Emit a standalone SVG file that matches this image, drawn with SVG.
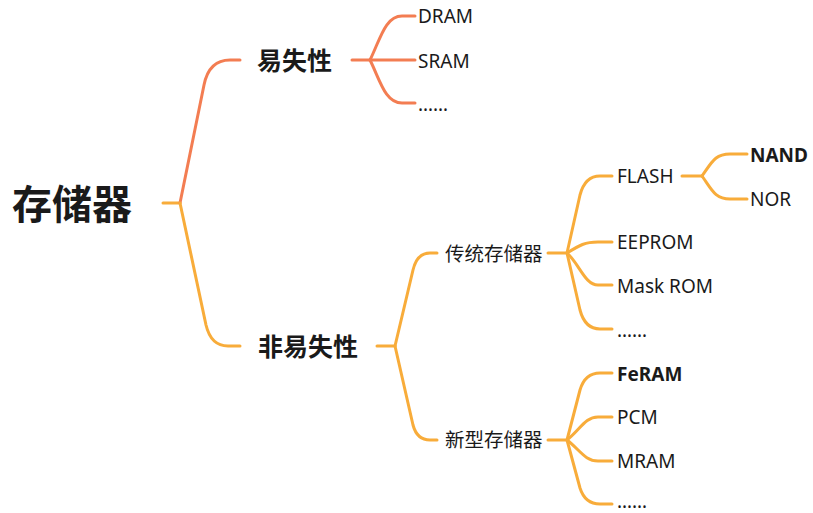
<svg xmlns="http://www.w3.org/2000/svg" width="813" height="513" viewBox="0 0 813 513">
<style>
.c{fill:none;stroke-width:3;stroke-linecap:round;stroke-linejoin:round}
.r{stroke:#F37D52}
.y{stroke:#F8AC3A}
.t{font-family:"Noto Sans","Noto Sans CJK SC",sans-serif;fill:#1a1a1a;font-size:19px}
.zh{font-family:"Noto Sans CJK SC","Noto Sans",sans-serif;fill:#1a1a1a}
.b{font-weight:bold}
</style>
<rect width="813" height="513" fill="#ffffff"/>
<g id="connectors">
<path class="c y" d="M163,203 L180,203"/>
<path class="c r" d="M180,203 L204,85 Q209,60 230,60 L240,60"/>
<path class="c y" d="M180,203 L206,325 Q211,346 228,346 L240,346"/>
<path class="c r" d="M352,60 L370,60"/>
<path class="c r" d="M370,60 C380,40 385,16 402,16 L415,16"/>
<path class="c r" d="M370,60 L415,60"/>
<path class="c r" d="M370,60 C380,80 385,103 402,103 L415,103"/>
<path class="c y" d="M377,346 L395,346"/>
<path class="c y" d="M395,346 L413,270 Q417,253 430,253 L437,253"/>
<path class="c y" d="M395,346 L413,425 Q417,440 430,440 L437,440"/>
<path class="c y" d="M548,253 L567,253"/>
<path class="c y" d="M567,253 L580,195 Q585,176 600,176 L612,176"/>
<path class="c y" d="M567,253 C580,245 585,242 598,242 L612,242"/>
<path class="c y" d="M567,253 C580,265 585,285 598,285 L612,285"/>
<path class="c y" d="M567,253 L580,310 Q585,329 600,329 L612,329"/>
<path class="c y" d="M682,176 L702,176"/>
<path class="c y" d="M702,176 C712,162 715,154 730,154 L747,154"/>
<path class="c y" d="M702,176 C712,190 715,199 730,199 L747,199"/>
<path class="c y" d="M548,440 L567,440"/>
<path class="c y" d="M567,440 L580,390 Q585,373 600,373 L612,373"/>
<path class="c y" d="M567,440 C580,430 585,417 598,417 L612,417"/>
<path class="c y" d="M567,440 C580,450 585,461 598,461 L612,461"/>
<path class="c y" d="M567,440 L580,488 Q585,504 600,504 L612,504"/>
</g>
<g id="root"><text class="zh b" x="12" y="219" font-size="40">存储器</text></g>
<g id="volatile"><text class="zh b" x="257" y="70" font-size="25">易失性</text></g>
<g id="nonvolatile"><text class="zh b" x="258" y="356" font-size="25">非易失性</text></g>
<g id="dram"><text class="t" x="418" y="23">DRAM</text></g>
<g id="sram"><text class="t" x="418" y="68">SRAM</text></g>
<g id="v-more"><text class="t" x="418" y="111" font-size="16">……</text></g>
<g id="traditional"><text class="zh" x="445" y="261" font-size="19.5">传统存储器</text></g>
<g id="new"><text class="zh" x="445" y="447" font-size="19.5">新型存储器</text></g>
<g id="flash"><text class="t" x="617" y="183">FLASH</text></g>
<g id="nand"><text class="t b" x="750" y="162">NAND</text></g>
<g id="nor"><text class="t" x="750" y="206">NOR</text></g>
<g id="eeprom"><text class="t" x="617" y="249">EEPROM</text></g>
<g id="maskrom"><text class="t" x="617" y="293">Mask ROM</text></g>
<g id="t-more"><text class="t" x="617" y="337" font-size="16">……</text></g>
<g id="feram"><text class="t b" x="617" y="381">FeRAM</text></g>
<g id="pcm"><text class="t" x="617" y="424">PCM</text></g>
<g id="mram"><text class="t" x="617" y="468">MRAM</text></g>
<g id="n-more"><text class="t" x="617" y="508" font-size="16">……</text></g>
</svg>
